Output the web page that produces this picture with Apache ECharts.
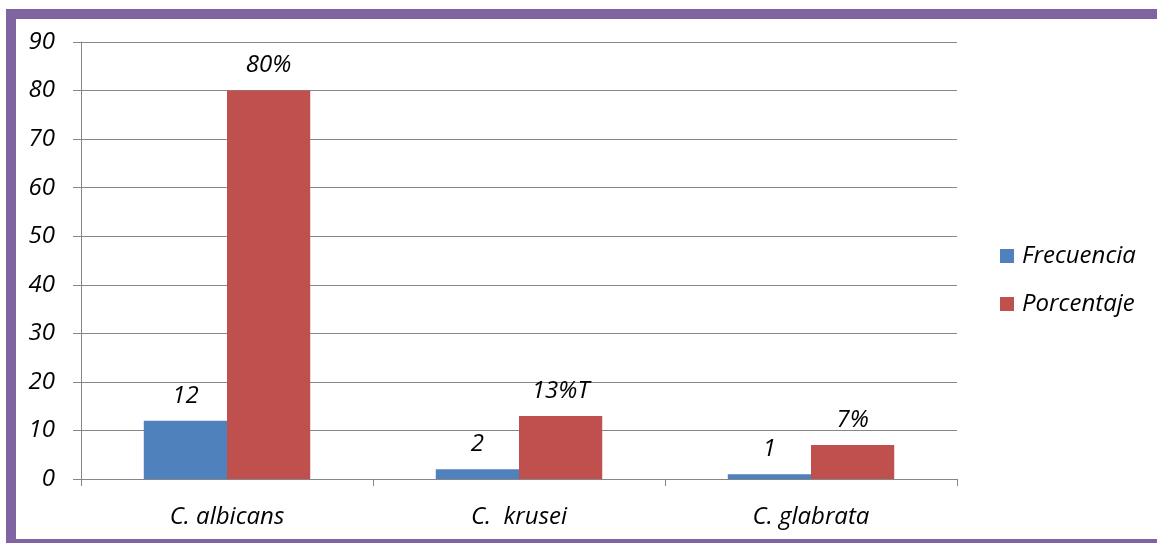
<!DOCTYPE html>
<html>
<head>
<meta charset="utf-8">
<script src="https://cdn.jsdelivr.net/npm/echarts@6/dist/echarts.min.js"></script>
<style>
  html, body { margin: 0; padding: 0; background: #ffffff; }
  #frame {
    position: absolute; left: 6px; top: 9px; width: 1200px; height: 520px;
    border-left: 10px solid #8064A2; border-top: 10px solid #8064A2; border-bottom: 4px solid #8064A2;
    background: #ffffff;
  }
  #chart { position: absolute; left: 0; top: 0; width: 1157px; height: 543px; }
</style>
</head>
<body>
<div id="frame"></div>
<div id="chart"></div>
<script>
// Candida species and their counts / percentages
const categories = ['C. albicans', 'C.  krusei', 'C. glabrata'];
const frecuencia = [12, 2, 1];
const porcentaje = [80, 13, 7];
const porcentajeLabels = ['80%', '13%T', '7%'];
const yTicks = { min: 0, max: 90, interval: 10 };

const FONT = '"Open Sans", sans-serif';
const FS = 24;
const labelStyle = {
  show: true, position: 'top', distance: 13,
  fontFamily: FONT, fontStyle: 'italic', fontSize: FS, color: '#000'
};

const chart = echarts.init(document.getElementById('chart'), null, { renderer: 'canvas' });
chart.setOption({
  backgroundColor: 'transparent',
  animation: false,
  grid: { left: 81, right: 200, top: 42, bottom: 64, containLabel: false },
  legend: {
    orient: 'vertical', left: 995, top: 239, itemGap: 24,
    itemWidth: 14, itemHeight: 14, icon: 'rect',
    textStyle: { fontFamily: FONT, fontStyle: 'italic', fontSize: FS, color: '#000', padding: [0, 0, 0, 3] },
    data: ['Frecuencia', 'Porcentaje']
  },
  xAxis: {
    type: 'category', data: categories,
    axisLine: { lineStyle: { color: '#868686', width: 1 } },
    axisTick: { show: true, length: 7, alignWithLabel: false, lineStyle: { color: '#868686' } },
    axisLabel: { margin: 26, fontFamily: FONT, fontStyle: 'italic', fontSize: FS, color: '#000' }
  },
  yAxis: {
    type: 'value', min: yTicks.min, max: yTicks.max, interval: yTicks.interval,
    axisLine: { show: true, lineStyle: { color: '#868686', width: 1 } },
    axisTick: { show: true, length: 8, lineStyle: { color: '#868686' } },
    splitLine: { lineStyle: { color: '#868686', width: 1 } },
    axisLabel: { margin: 26, fontFamily: FONT, fontStyle: 'italic', fontSize: FS, color: '#000' }
  },
  series: [
    {
      name: 'Frecuencia', type: 'bar', data: frecuencia,
      barGap: '0%', barCategoryGap: '43%',
      itemStyle: { color: '#4F81BD' },
      label: labelStyle
    },
    {
      name: 'Porcentaje', type: 'bar', data: porcentaje,
      barGap: '0%', barCategoryGap: '43%',
      itemStyle: { color: '#C0504D' },
      label: Object.assign({}, labelStyle, {
        formatter: p => porcentajeLabels[p.dataIndex]
      })
    }
  ]
});
</script>
</body>
</html>
